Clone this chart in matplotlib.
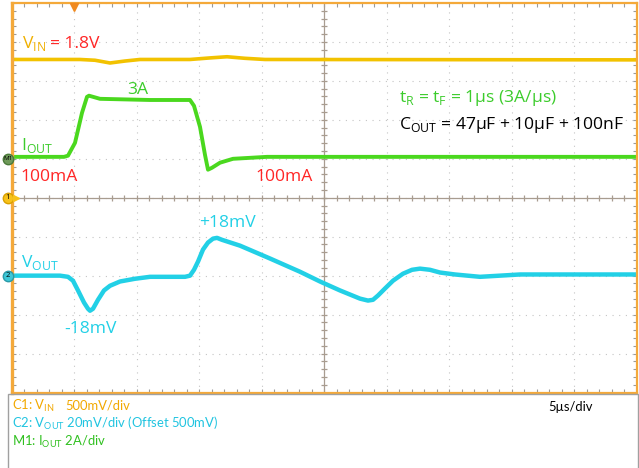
import matplotlib
matplotlib.use('Agg')
import matplotlib.pyplot as plt
import numpy as np
from matplotlib.collections import LineCollection
from matplotlib.patches import Rectangle

# time in us (5 us/div), traces in screen divisions (0 = centre line)
t_vin = [0, 5.48, 6.68, 7.88, 9.08, 10.28, 14.28, 15.88, 17.24, 18.68, 20.28, 50]
v_vin = [3.55, 3.55, 3.53, 3.46, 3.51, 3.55, 3.55, 3.59, 3.62, 3.58, 3.55, 3.54]

t_iout = [0, 4.2, 4.52, 5.08, 5.64, 6.04, 6.2, 7.08, 11.08, 14.28, 14.6, 15.08,
          15.48, 15.72, 16.04, 16.68, 17.72, 20.44, 50]
v_iout = [1.05, 1.05, 1.08, 1.41, 2.18, 2.59, 2.62, 2.54, 2.51, 2.51, 2.36, 1.82,
          1.10, 0.72, 0.77, 0.90, 1.00, 1.05, 1.05]

t_vout = [0, 3.88, 4.52, 4.92, 5.32, 5.8, 6.12, 6.28, 6.52, 6.92, 7.4, 7.88, 8.68,
          9.88, 11.08, 13.88, 14.28, 14.6, 14.92, 15.32, 15.72, 16.12, 16.44, 16.84,
          18.28, 20.68, 23.08, 24.68, 26.28, 27.88, 28.52, 28.92, 29.32, 29.88,
          30.52, 31.32, 32.04, 32.68, 33.48, 34.28, 35.48, 37.48, 40.68, 43.88, 50]
v_vout = [-2.0, -2.0, -2.03, -2.13, -2.38, -2.69, -2.85, -2.90, -2.85, -2.62,
          -2.38, -2.26, -2.15, -2.08, -2.03, -2.03, -2.0, -1.85, -1.64, -1.33,
          -1.15, -1.05, -1.03, -1.08, -1.23, -1.56, -1.90, -2.15, -2.38, -2.59,
          -2.64, -2.62, -2.51, -2.33, -2.13, -1.95, -1.85, -1.82, -1.85, -1.92,
          -1.97, -2.03, -1.97, -1.97, -1.97]

ORANGE = '#f4a93a'
GOLD = '#f2c200'
GREEN = '#4ad81e'
GREEN_TXT = '#3ccc2c'
CYAN = '#22d0e6'
RED = '#ff2626'

plt.rcParams['mathtext.fontset'] = 'custom'
plt.rcParams['mathtext.rm'] = 'Open Sans'
plt.rcParams['mathtext.sf'] = 'Lato'
plt.rcParams['font.family'] = 'Open Sans'

W, H = 639, 468
fig = plt.figure(figsize=(W / 100, H / 100), dpi=100)
ax = fig.add_axes([11.5 / W, (H - 392.5) / H, 625 / W, 389.5 / H])
ax.set_xlim(0, 50)
ax.set_ylim(-5, 5)

for s in ax.spines.values():
    s.set_color(ORANGE)
    s.set_linewidth(1.6)
ax.spines['left'].set_linewidth(2.4)

ax.set_xticks(np.arange(0, 51, 5))
ax.set_xticks(np.arange(0, 51, 1), minor=True)
ax.set_yticks(np.arange(-5, 6, 1))
ax.set_yticks(np.arange(-5, 5.01, 0.2), minor=True)
ax.tick_params(which='both', direction='in', length=3, width=0.8, color='#9a9a9a',
               top=True, right=True, labelleft=False, labelbottom=False)
ax.grid(which='major', linestyle=(0, (1, 5)), color='#c4c4c4', linewidth=0.8)

# centre cross with small ticks
cc = '#a89c90'
ax.axhline(0, color=cc, lw=0.9)
ax.axvline(25, color=cc, lw=0.9)
segs = [[(x, -0.08), (x, 0.08)] for x in np.arange(0, 50, 1)]
segs += [[(24.75, y), (25.25, y)] for y in np.arange(-5, 5, 0.2)]
ax.add_collection(LineCollection(segs, colors=cc, linewidths=0.9))

# traces
ax.plot(t_vin, v_vin, color=GOLD, lw=2.6, solid_joinstyle='round')
ax.plot(t_iout, v_iout, color=GREEN, lw=2.8, solid_joinstyle='round')
ax.plot(t_vout, v_vout, color=CYAN, lw=3.2, solid_joinstyle='round')

# channel markers on the left edge and trigger marker on top
ax.plot(-0.28, 1.0, 'o', ms=7.5, mfc='#6f9a5a', mec='#4a7a3a', clip_on=False, zorder=5)
ax.text(-0.28, 1.0, 'M1', fontsize=4.5, ha='center', va='center', color='k', zorder=6)
ax.plot(-0.28, 0, 'o', ms=7.5, mfc='#f7c21a', mec='#d9a000', clip_on=False, zorder=5)
ax.text(-0.28, 0, '1', fontsize=5.5, ha='center', va='center', color='k', zorder=6)
ax.plot(0.35, 0, '>', ms=4, color='#f7c21a', clip_on=False, zorder=5)
ax.plot(-0.28, -2.0, 'o', ms=7.5, mfc='#3cc8d8', mec='#2a9aa8', clip_on=False, zorder=5)
ax.text(-0.28, -2.0, '2', fontsize=5.5, ha='center', va='center', color='k', zorder=6)
ax.plot(5.0, 4.9, 'v', ms=6, color='#f08a20', clip_on=False, zorder=5)

fs = 12.6
ax.text(0.84, 3.84, r'V$_{\mathrm{IN}}$', color='#f0b000', fontsize=fs, va='baseline')
ax.text(3.08, 3.84, '= 1.8V', color=RED, fontsize=fs, va='baseline')
ax.text(9.24, 2.66, '3A', color=GREEN_TXT, fontsize=fs, va='baseline')
ax.text(0.76, 1.23, r'I$_{\mathrm{OUT}}$', color=GREEN_TXT, fontsize=fs, va='baseline')
ax.text(0.68, 0.44, '100mA', color=RED, fontsize=fs, va='baseline')
ax.text(19.48, 0.44, '100mA', color=RED, fontsize=fs, va='baseline')
ax.text(31.0, 2.47, r't$_{\mathrm{R}}$ = t$_{\mathrm{F}}$ = 1µs (3A/µs)',
        color=GREEN_TXT, fontsize=fs, va='baseline')
ax.text(31.0, 1.76, r'C$_{\mathrm{OUT}}$ = 47µF + 10µF + 100nF',
        color='k', fontsize=fs, va='baseline')
ax.text(15.0, -0.74, '+18mV', color=CYAN, fontsize=fs, va='baseline')
ax.text(0.76, -1.78, r'V$_{\mathrm{OUT}}$', color=CYAN, fontsize=fs, va='baseline')
ax.text(4.2, -3.47, '-18mV', color=CYAN, fontsize=fs, va='baseline')

# info panel below the screen
fig.patches.append(Rectangle((8 / W, -0.01), 629.5 / W, (H - 393.5) / H + 0.01,
                             transform=fig.transFigure, fill=False,
                             edgecolor='#a0a0a0', lw=1))
pf = dict(fontsize=9.4, family='Lato', va='baseline')
fig.text(12 / W, 1 - 410 / H, r'C1: $\mathsf{V_{IN}}$', color='#f2a800', **pf)
fig.text(65 / W, 1 - 410 / H, '500mV/div', color='#f2a800', **pf)
fig.text(12 / W, 1 - 428 / H, r'C2: $\mathsf{V_{OUT}}$ 20mV/div (Offset 500mV)',
         color='#20c4e0', **pf)
fig.text(12 / W, 1 - 446 / H, r'M1: $\mathsf{I_{OUT}}$ 2A/div', color='#30c020', **pf)
fig.text(548 / W, 1 - 411 / H, '5µs/div', color='k', **pf)

fig.savefig('out.png', dpi=100)
